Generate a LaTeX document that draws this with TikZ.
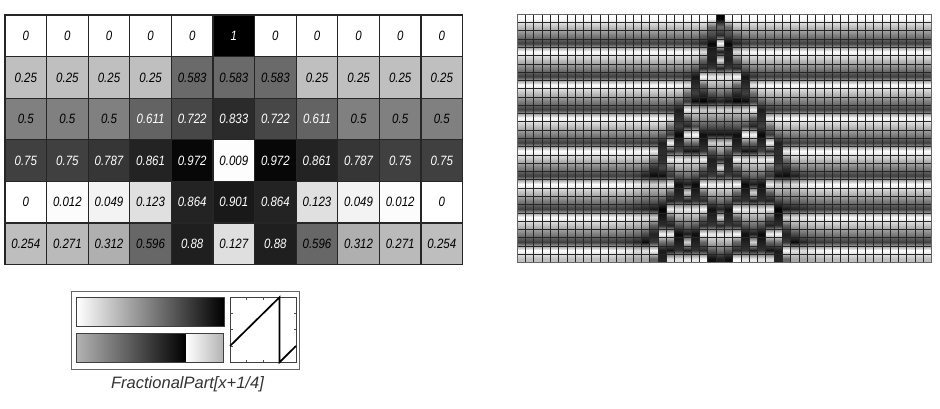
\documentclass[tikz,border=0pt]{standalone}
\usepackage{fontspec}
\setmainfont{Liberation Sans}
\newfontfamily\cellfont{Liberation Sans}[FakeStretch=0.85]

\tikzset{
  cell/.style={draw=black!85, line width=1.2pt, minimum size=41.6pt, inner sep=0pt,
    font=\cellfont\itshape\fontsize{13.5}{15}\selectfont},
  gridline/.style={draw=black!85, line width=0.9pt},
  frame/.style={draw=black!60, line width=1pt},
  bar/.style={draw=black!75, line width=1pt}
}

\begin{document}
\begin{tikzpicture}[x=1pt,y=-1pt]
\useasboundingbox (0,0) rectangle (940,409);

% table of the first steps
\foreach \vals [count=\ri from 0] in {
    {0,0,0,0,0,1,0,0,0,0,0},
    {0.25,0.25,0.25,0.25,0.583,0.583,0.583,0.25,0.25,0.25,0.25},
    {0.5,0.5,0.5,0.611,0.722,0.833,0.722,0.611,0.5,0.5,0.5},
    {0.75,0.75,0.787,0.861,0.972,0.009,0.972,0.861,0.787,0.75,0.75},
    {0,0.012,0.049,0.123,0.864,0.901,0.864,0.123,0.049,0.012,0},
    {0.254,0.271,0.312,0.596,0.88,0.127,0.88,0.596,0.312,0.271,0.254}} {
  \foreach \v [count=\ci from 0] in \vals {
    \pgfmathsetmacro\pct{100*\v}
    \pgfmathtruncatemacro\isdark{\v>0.6}
    \ifnum\isdark=1 \def\tc{white}\else\def\tc{black}\fi
    \node[cell, fill=black!\pct, text=\tc] (cell-\ri-\ci)
      at ({5+41.6*(\ci+0.5)}, {15+41.6*(\ri+0.5)}) {\v};
  }
}

% automaton, 50 cells, 30 steps
\foreach \ci in {0,...,49} {
  \expandafter\xdef\csname ca@0@\ci\endcsname{\ifnum\ci=24 1\else 0\fi}
}
\foreach \ri in {1,...,29} {
  \pgfmathtruncatemacro\prv{\ri-1}
  \foreach \ci in {0,...,49} {
    \pgfmathtruncatemacro\lc{mod(\ci+49,50)}
    \pgfmathtruncatemacro\rc{mod(\ci+1,50)}
    \pgfmathsetmacro\nv{(\csname ca@\prv @\lc\endcsname+\csname ca@\prv @\ci\endcsname+\csname ca@\prv @\rc\endcsname)/3+0.25}
    \pgfmathsetmacro\nv{\nv-floor(\nv)}
    \expandafter\xdef\csname ca@\ri @\ci\endcsname{\nv}
  }
}
% cells, blended towards the rows above and below
\foreach \ri in {0,...,29} {
  \pgfmathtruncatemacro\up{max(\ri-1,0)}
  \pgfmathtruncatemacro\dn{min(\ri+1,29)}
  \foreach \ci in {0,...,49} {
    \pgfmathsetmacro\pct{100*\csname ca@\ri @\ci\endcsname}
    \pgfmathsetmacro\tp{50*(\csname ca@\up @\ci\endcsname+\csname ca@\ri @\ci\endcsname)}
    \pgfmathsetmacro\bt{50*(\csname ca@\dn @\ci\endcsname+\csname ca@\ri @\ci\endcsname)}
    \shade[top color=black!\tp, bottom color=black!\bt, middle color=black!\pct]
      ({517.3+8.288*\ci}, {14.3+8.28*\ri}) rectangle ++(8.288, 8.28);
  }
}
\foreach \ci in {1,...,49}
  \draw[gridline] ({517.3+8.288*\ci}, 14.3) -- ++(0, 248.4);
\foreach \ri in {1,...,29}
  \draw[gridline] (517.3, {14.3+8.28*\ri}) -- ++(414.4, 0);
\draw[frame] (517.3,14.3) rectangle (931.7,262.7);

% colour map legend
\draw[frame] (71,291.7) rectangle (299,369);
\shade[left color=white, right color=black] (76.7,297.3) rectangle (224,326.7);
\draw[bar] (76.7,297.3) rectangle (224,326.7);
\shade[left color=black!30, right color=black] (76.7,333.3) rectangle (186.2,362.7);
\shade[left color=white, right color=black!30] (186.2,333.3) rectangle (223.3,362.7);
\draw[bar] (76.7,333.3) rectangle (223.3,362.7);

% plot of the function
\draw[bar] (230,297.3) rectangle (296,362.3);
\foreach \t in {0.25,0.5,0.75} {
  \draw[black!70, line width=0.8pt] ({230+66*\t}, 297.3) -- ++(0, 2.5);
  \draw[black!70, line width=0.8pt] ({230+66*\t}, 362.3) -- ++(0, -2.5);
  \draw[black!70, line width=0.8pt] (230, {362.3-65*\t}) -- ++(2.5, 0);
  \draw[black!70, line width=0.8pt] (296, {362.3-65*\t}) -- ++(-2.5, 0);
}
\draw[line width=1.7pt] (230,346) -- (279.5,297.3) -- (279.5,362.3) -- (296,346);

\node[font=\itshape\fontsize{16.5}{18}\selectfont, text=black!80] (fplabel) at (187.5,384) {FractionalPart[x+1/4]};
\end{tikzpicture}
\end{document}
